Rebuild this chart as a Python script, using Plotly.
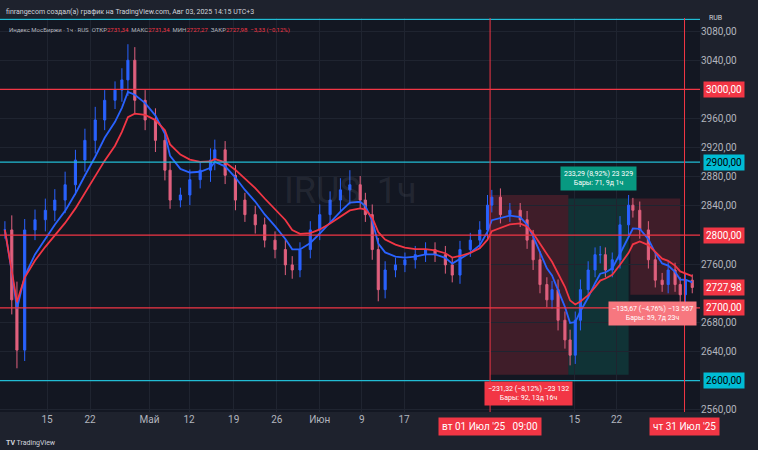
import plotly.graph_objects as go
import pandas as pd

# trading-day index and close prices
days = [0.1,0.9,1.5,2.4,3.6,4.8,5.9,7.1,8.3,9.4,10.6,11.7,12.9,13.7,14.4,15.2,16.4,17.6,18.7,19.3,20.5,21.6,22.8,24.0,24.5,25.7,26.9,28.0,29.2,30.3,31.5,32.7,33.5,34.4,35.6,36.7,37.9,39.1,40.2,41.4,42.0,42.8,43.5,44.3,45.5,46.6,47.8,49.0,50.1,51.3,52.1,53.0,54.2,55.3,56.2,56.7,57.7,58.8,60.0,60.8,61.5,62.3,63.1,63.7,64.4,65.2,65.8,66.4,67.0,67.9,68.7,69.3,69.9,70.7,71.6,72.6,73.1,73.9,74.9,75.7,76.5,77.2,78.0,78.6,79.2,80.0]
closes = [2807,2711,2642,2807,2821,2834,2848,2869,2903,2930,2958,2985,2999,3013,3040,2985,2958,2930,2889,2848,2855,2876,2889,2903,2917,2882,2848,2828,2814,2793,2780,2759,2752,2780,2807,2828,2848,2862,2869,2848,2828,2780,2725,2752,2759,2766,2773,2780,2773,2759,2745,2780,2793,2807,2841,2852,2828,2834,2821,2793,2766,2732,2711,2725,2683,2656,2635,2683,2725,2752,2773,2773,2752,2766,2814,2841,2834,2807,2766,2738,2732,2752,2732,2718,2738,2728]
wick = [12,20,25,15,14,16,15,18,14,16,18,14,12,16,22,18,14,16,14,12,10,14,12,16,14,12,14,10,12,10,12,14,12,10,12,14,12,16,20,12,10,14,16,12,10,10,12,10,10,12,10,12,10,12,14,10,12,10,10,12,14,12,10,12,14,12,14,12,14,12,10,12,10,10,12,14,10,12,12,10,10,12,10,10,10,8]

price_ticks = [3080,3040,2960,2920,2880,2840,2760,2680,2640,2560]
date_tick_days = [-0.4,5,10,16.9,21.5,26.7,31.7,36.7,41.6,46.5,66.3,71.2]
date_tick_text = ["8","15","22","Май","12","19","26","Июн","9","17","15","22"]

opens = [closes[0]] + closes[:-1]
highs = [max(o, c) + w for o, c, w in zip(opens, closes, wick)]
lows = [min(o, c) - w for o, c, w in zip(opens, closes, wick)]
s = pd.Series(closes)
ma_fast = s.ewm(span=5).mean()
ma_slow = s.ewm(span=9).mean()

BG = "#131722"
fig = go.Figure()
fig.add_shape(type="rect", x0=56.5, x1=65.6, y0=2608, y1=2855, fillcolor="rgba(242,54,69,0.2)", line_width=0, layer="below")
fig.add_shape(type="rect", x0=65.6, x1=72.6, y0=2608, y1=2850, fillcolor="rgba(8,153,129,0.22)", line_width=0, layer="below")
fig.add_shape(type="rect", x0=72.8, x1=78.6, y0=2718, y1=2850, fillcolor="rgba(242,54,69,0.2)", line_width=0, layer="below")
for v, col in [(3096, "#22bcd4"), (3000, "#f23645"), (2900, "#22bcd4"), (2800, "#f23645"), (2700, "#f23645"), (2600, "#22bcd4")]:
    fig.add_hline(y=v, line_color=col, line_width=1.2)
for d in [56.5, 79.1]:
    fig.add_vline(x=d, line_color="#f23645", line_width=1)

fig.add_trace(go.Candlestick(x=days, open=opens, high=highs, low=lows, close=closes,
    increasing=dict(line=dict(color="#2962ff", width=1), fillcolor="#2962ff"),
    decreasing=dict(line=dict(color="#e0607e", width=1), fillcolor="#e0607e"),
    whiskerwidth=0, showlegend=False))
fig.add_trace(go.Scatter(x=days, y=ma_fast, mode="lines", line=dict(color="#2962ff", width=1.8), showlegend=False))
fig.add_trace(go.Scatter(x=days, y=ma_slow, mode="lines", line=dict(color="#f23645", width=1.8), showlegend=False))

fig.update_layout(width=758, height=450, margin=dict(l=0, r=58, t=18, b=38, autoexpand=False),
    paper_bgcolor="#1e222d", plot_bgcolor=BG, font=dict(family="Roboto", color="#b2b5be", size=10),
    xaxis=dict(range=[-0.47, 80.9], tickvals=date_tick_days, ticktext=date_tick_text, showgrid=True, automargin=False,
               zeroline=False, gridcolor="#1f2430", rangeslider=dict(visible=False), ticks="", tickfont=dict(size=10, color="#b2b5be")),
    yaxis=dict(range=[2557, 3098], side="right", tickvals=price_ticks, automargin=False,
               ticktext=[f"{v},00" for v in price_ticks], showgrid=True,
               gridcolor="#1f2430", zeroline=False, tickfont=dict(size=10, color="#b2b5be"), ticks=""))

for v, txt, col in [(3000, "3000,00", "#f23645"), (2900, "2900,00", "#00bcd4"), (2800, "2800,00", "#f23645"),
                    (2727.98, "2727,98", "#f23645"), (2700, "2700,00", "#f23645"), (2600, "2600,00", "#00bcd4")]:
    fig.add_annotation(xref="paper", x=1.004, y=v, yref="y", text=txt, showarrow=False, xanchor="left",
        bgcolor=col, font=dict(color="#000000" if col == "#00bcd4" else "#ffffff", size=10), borderpad=2)
fig.add_annotation(xref="paper", x=1.01, yref="paper", y=1.0, text="RUB", showarrow=False, xanchor="left", yanchor="middle",
                   font=dict(size=7, color="#d1d4dc"))
for d, txt in [(56.5, "вт 01 Июл '25   09:00"), (79.1, "чт 31 Июл '25")]:
    fig.add_annotation(x=d, xref="x", yref="paper", y=-0.012, text=txt, showarrow=False, yanchor="top",
        bgcolor="#f23645", font=dict(color="#ffffff", size=10), borderpad=3)
for d, v, t, col in [(69.1, 2878, "233,29 (8,92%) 23 329<br>Бары: 71, 9д 1ч", "#089981"),
                     (61.0, 2582, "−231,32 (−8,12%) −23 132<br>Бары: 92, 13д 16ч", "#f23645"),
                     (75.4, 2692, "−135,67 (−4,76%) −13 567<br>Бары: 59, 7д 23ч", "#f7777f")]:
    fig.add_annotation(x=d, y=v, text=t, showarrow=False, bgcolor=col, font=dict(color="#ffffff", size=7), borderpad=3)
fig.add_annotation(x=0.5, xref="paper", y=0.56, yref="paper", text="IRUS, 1ч", showarrow=False,
                   font=dict(size=36, color="rgba(120,123,134,0.18)"))
fig.add_annotation(x=0.005, xref="paper", y=1.0, yref="paper", yanchor="bottom", text="finrangecom создал(а) график на TradingView.com, Авг 03, 2025 14:15 UTC+3",
                   showarrow=False, xanchor="left", font=dict(size=7, color="#d1d4dc"))
fig.add_annotation(x=0.01, xref="paper", y=0.985, yref="paper",
                   text="Индекс МосБиржи · 1ч · RUS  ОТКР<span style='color:#f23645'>2731,34</span>  МАКС<span style='color:#f23645'>2731,34</span>  МИН<span style='color:#f23645'>2727,27</span>  ЗАКР<span style='color:#f23645'>2727,98  −3,33 (−0,12%)</span>",
                   showarrow=False, xanchor="left", font=dict(size=6, color="#b2b5be"))
fig.add_annotation(x=0.005, xref="paper", y=-0.078, yref="paper", yanchor="middle", text="<b>TV</b> TradingView", showarrow=False,
                   xanchor="left", font=dict(size=7, color="#d1d4dc"))
fig.write_html("out.html", config={"displayModeBar": False},
               post_script="document.body.style.margin='0';document.body.style.overflow='hidden';document.body.style.background='#1e222d';")
